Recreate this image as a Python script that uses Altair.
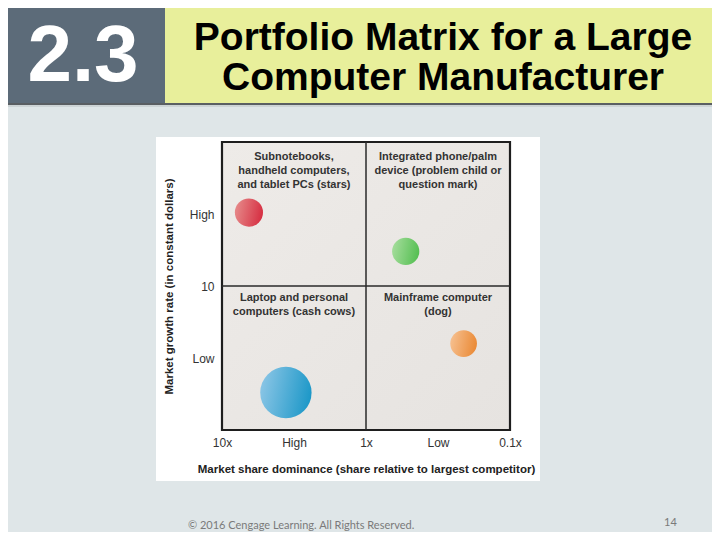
import altair as alt
import pandas as pd

# ---- data ----
products = ["Subnotebooks/handheld/tablet", "Integrated phone/palm", "Mainframe", "Laptop/PC"]
share = [6.5, 0.53, 0.21, 3.6]          # share relative to largest competitor
growth = [15.1, 12.4, 6.0, 2.6]          # market growth rate
revenue = [30, 28, 27, 100]              # relative business size

x_tick_values = [10, 3.1623, 1, 0.31623, 0.1]
x_tick_labels = ["10x", "High", "1x", "Low", "0.1x"]
y_tick_values = [15, 10, 5]
y_tick_labels = ["High", "10", "Low"]

quad_share = [3.1623, 0.31623, 3.1623, 0.31623]
quad_growth = [19.35, 19.35, 9.55, 9.55]
quad_text = [
    "Subnotebooks,\nhandheld computers,\nand tablet PCs (stars)",
    "Integrated phone/palm\ndevice (problem child or\nquestion mark)",
    "Laptop and personal\ncomputers (cash cows)",
    "Mainframe computer\n(dog)",
]

bubbles = pd.DataFrame({"product": products, "share": share, "growth": growth, "revenue": revenue})
quads = pd.DataFrame({"share": quad_share, "growth": quad_growth, "text": quad_text})

def lbl_expr(vals, labels):
    parts = []
    for v, l in zip(vals, labels):
        parts.append(f"abs(datum.value - {v}) < 0.01 ? '{l}'")
    return " : ".join(parts) + " : ''"

FONT = "Liberation Sans"

xscale = alt.Scale(type="log", domain=[10, 0.1])
yscale = alt.Scale(domain=[0, 20])

xaxis = alt.Axis(values=x_tick_values, labelExpr=lbl_expr(x_tick_values, x_tick_labels),
                 title="Market share dominance (share relative to largest competitor)",
                 domain=False, ticks=False, grid=False, labelPadding=7, labelFontSize=12,
                 labelColor="#333", labelFont=FONT, titleFont=FONT, titleFontSize=11.5,
                 titleFontWeight="bold", titleColor="#222", titlePadding=15, zindex=2,
                 labelFlush=False)
yaxis = alt.Axis(values=y_tick_values, labelExpr=lbl_expr(y_tick_values, y_tick_labels),
                 title="Market growth rate (in constant dollars)",
                 domain=False, ticks=False, grid=False, labelPadding=8, labelFontSize=12,
                 labelColor="#333", labelFont=FONT, titleFont=FONT, titleFontSize=11.5,
                 titleFontWeight="bold", titleColor="#222", titlePadding=15, zindex=2,
                 labelFlush=False)

W, H = 288, 288
PL, PT, PR, PB = 214, 134, 202, 102

anchor = alt.Chart(pd.DataFrame({"a": [0]}))

# slide decorations (pixels relative to plot origin)
header_dark = anchor.mark_rect(color="#5c6b79").encode(
    x=alt.value(-PL), x2=alt.value(-57), y=alt.value(-PT), y2=alt.value(-38))
header_yellow = anchor.mark_rect(color="#e8ef9b").encode(
    x=alt.value(-57), x2=alt.value(500), y=alt.value(-PT), y2=alt.value(-38))
header_line = anchor.mark_rect(color="#5a5f63").encode(
    x=alt.value(-PL), x2=alt.value(500), y=alt.value(-39), y2=alt.value(-37))
header_shadow = anchor.mark_rect(color="#cdd4d6").encode(
    x=alt.value(-PL), x2=alt.value(500), y=alt.value(-37), y2=alt.value(-35))
num_text = anchor.mark_text(text="2.3", color="white", font="Liberation Sans",
                            fontWeight="bold", fontSize=80, align="center", baseline="middle").encode(
    x=alt.value(-139), y=alt.value(-85))
title_text = anchor.mark_text(text=["Portfolio Matrix for a Large", "Computer Manufacturer"],
                              color="#000", font="Liberation Sans", fontWeight="bold",
                              fontSize=39, lineHeight=40, align="center", baseline="middle").encode(
    x=alt.value(221), y=alt.value(-104))
footer = anchor.mark_text(text="© 2016 Cengage Learning. All Rights Reserved.", color="#7a7a7a",
                          font="Lato", fontSize=11, align="left", baseline="middle").encode(
    x=alt.value(-34), y=alt.value(384))
page_no = anchor.mark_text(text="14", color="#7a7a7a", font="Lato", fontSize=11,
                           align="left", baseline="middle").encode(
    x=alt.value(442), y=alt.value(381))
panel = anchor.mark_rect(color="white").encode(
    x=alt.value(-66), x2=alt.value(318), y=alt.value(-5), y2=alt.value(339))

# plot box
box_df = pd.DataFrame({"x1": [10], "x2": [0.1], "y1": [0], "y2": [20]})
box = alt.Chart(box_df).mark_rect(
    fill=alt.Gradient(gradient="linear", x1=0, y1=0, x2=1, y2=1,
                      stops=[alt.GradientStop(color="#eeebe8", offset=0),
                             alt.GradientStop(color="#e6e3e0", offset=1)]),
    stroke="#1e1e1e", strokeWidth=2.2).encode(
    x=alt.X("x1:Q", scale=xscale, axis=xaxis), x2="x2:Q",
    y=alt.Y("y1:Q", scale=yscale, axis=yaxis), y2="y2:Q")

vline = alt.Chart(pd.DataFrame({"x": [1], "y1": [0], "y2": [20]})).mark_rule(
    color="#2a2a2a", strokeWidth=1.5).encode(
    x=alt.X("x:Q", scale=xscale), y=alt.Y("y1:Q", scale=yscale), y2="y2:Q")
hline = alt.Chart(pd.DataFrame({"y": [10], "x1": [10], "x2": [0.1]})).mark_rule(
    color="#2a2a2a", strokeWidth=1.5).encode(
    y=alt.Y("y:Q", scale=yscale), x=alt.X("x1:Q", scale=xscale), x2="x2:Q")

labels = alt.Chart(quads).mark_text(font=FONT, fontSize=11, fontWeight="bold", color="#333",
                                    lineBreak="\n", lineHeight=14, align="center",
                                    baseline="top").encode(
    x=alt.X("share:Q", scale=xscale), y=alt.Y("growth:Q", scale=yscale), text="text:N")

grad_colors = {
    "Subnotebooks/handheld/tablet": ("#e68a8a", "#d62f42"),
    "Integrated phone/palm": ("#a5dd9c", "#55bf52"),
    "Mainframe": ("#f6c090", "#ea8a36"),
    "Laptop/PC": ("#8cc6e6", "#1d98c8"),
}
size_scale = alt.Scale(domain=[0, 100], range=[0, 2640], zero=True)
bubble_layers = []
for p in products:
    c1, c2 = grad_colors[p]
    g = alt.Gradient(gradient="linear", x1=0, y1=0.3, x2=1, y2=0.5,
                     stops=[alt.GradientStop(color=c1, offset=0),
                            alt.GradientStop(color=c2, offset=1)])
    bubble_layers.append(
        alt.Chart(bubbles).transform_filter(alt.datum.product == p).mark_circle(
            fill=g, opacity=1, strokeWidth=0).encode(
            x=alt.X("share:Q", scale=xscale), y=alt.Y("growth:Q", scale=yscale),
            size=alt.Size("revenue:Q", scale=size_scale, legend=None)))

chart = alt.layer(
    header_dark, header_yellow, header_line, header_shadow, num_text, title_text,
    footer, page_no, panel, box, vline, hline, labels, *bubble_layers
).properties(
    width=W, height=H,
    padding={"left": PL, "top": PT, "right": PR, "bottom": PB},
    autosize=alt.AutoSizeParams(type="none"),
    background="#dfe6e8",
).configure_view(stroke=None)

chart.save("out.html", embed_options={"renderer": "svg", "actions": False})
